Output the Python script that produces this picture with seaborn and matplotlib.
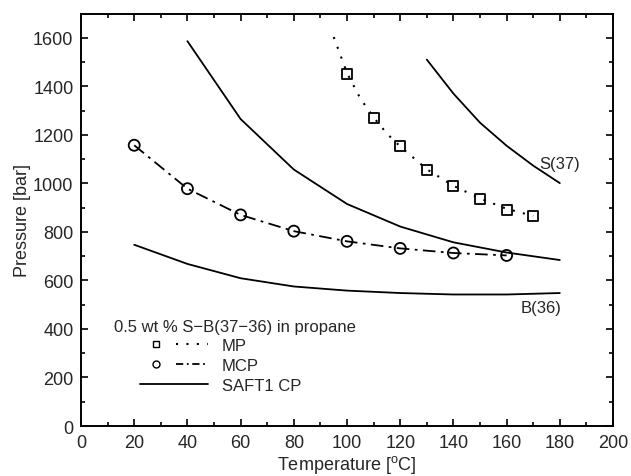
import matplotlib
matplotlib.use("Agg")
import matplotlib.pyplot as plt
import seaborn as sns
from matplotlib.lines import Line2D
from matplotlib.legend_handler import HandlerTuple

# measured points (MP, squares)
mp_temp = [100, 110, 120, 130, 140, 150, 160, 170]
mp_pres = [1451, 1270, 1153, 1056, 988, 936, 892, 867]
# dotted guide through MP
mp_fit_temp = [95, 100, 105, 110, 115, 120, 130, 140, 150, 160, 170]
mp_fit_pres = [1603, 1455, 1350, 1272, 1205, 1152, 1058, 990, 938, 895, 866]

# measured cloud points (MCP, circles)
mcp_temp = [20, 40, 60, 80, 100, 120, 140, 160]
mcp_pres = [1157, 978, 870, 803, 761, 732, 713, 703]

# SAFT1 CP curves
saft_s_temp = [130, 140, 150, 160, 170, 180]
saft_s_pres = [1510, 1370, 1250, 1155, 1073, 1001]
saft_mid_temp = [40, 60, 80, 100, 120, 140, 160, 180]
saft_mid_pres = [1586, 1265, 1057, 915, 822, 757, 715, 684]
saft_b_temp = [20, 40, 60, 80, 100, 120, 140, 160, 180]
saft_b_pres = [747, 668, 609, 575, 558, 548, 542, 542, 548]

sns.set_style("ticks")
plt.rcParams["font.family"] = ["Liberation Sans", "DejaVu Sans"]
plt.rcParams["mathtext.fontset"] = "custom"
plt.rcParams["mathtext.rm"] = "Liberation Sans"

fig = plt.figure(figsize=(6.31, 4.77), dpi=100)
ax = fig.add_axes([0.1284, 0.1048, 0.8431, 0.8648])

lw = 1.3
for t, p in [(saft_s_temp, saft_s_pres), (saft_mid_temp, saft_mid_pres), (saft_b_temp, saft_b_pres)]:
    sns.lineplot(x=t, y=p, ax=ax, color="black", lw=lw, sort=False)

sns.lineplot(x=mp_fit_temp, y=mp_fit_pres, ax=ax, color="black", lw=1.5,
             linestyle=(0, (1, 4)), sort=False)
sns.lineplot(x=mcp_temp, y=mcp_pres, ax=ax, color="black", lw=lw,
             linestyle=(0, (7, 3, 1.5, 3)), sort=False)

sns.scatterplot(x=mp_temp, y=mp_pres, ax=ax, marker="s", s=52,
                facecolor="none", edgecolor="black", linewidth=1.3, zorder=5)
sns.scatterplot(x=mcp_temp, y=mcp_pres, ax=ax, marker="o", s=63,
                facecolor="none", edgecolor="black", linewidth=1.3, zorder=5)

ax.text(180, 1080, "S(37)", fontsize=12, ha="center", va="center")
ax.text(173, 489, "B(36)", fontsize=12, ha="center", va="center")

ax.set_xlim(0, 200)
ax.set_ylim(0, 1700)
ax.set_xticks(range(0, 201, 20))
ax.set_yticks(range(0, 1601, 200))
ax.set_xticks(range(10, 200, 20), minor=True)
ax.set_yticks(range(100, 1700, 200), minor=True)
ax.tick_params(which="both", direction="in", top=True, right=True,
               width=1.2, labelsize=13, color="black", pad=5.5)
ax.tick_params(which="major", length=5)
ax.tick_params(which="minor", length=3)
for s in ax.spines.values():
    s.set_linewidth(1.4)
    s.set_color("black")

ax.set_xlabel("Temperature [$^\\mathregular{o}$C]", fontsize=13, labelpad=2)
ax.set_ylabel("Pressure [bar]", fontsize=13, labelpad=1.5)

# legend: title as plain text, entries indented below it
ax.text(12.4, 410, "0.5 wt % S\u2212B(37\u221236) in propane", fontsize=12,
        ha="left", va="center")
h_sq = Line2D([], [], marker="s", ms=5, mfc="none", mec="black", ls="none")
h_dot = Line2D([], [], color="black", lw=1.5, ls=(0, (1, 4)))
h_ci = Line2D([], [], marker="o", ms=5, mfc="none", mec="black", ls="none")
h_dd = Line2D([], [], color="black", lw=lw, ls=(0, (4, 2, 1, 2)))
h_saft = Line2D([], [], color="black", lw=lw)
ax.legend([(h_sq, h_dot), (h_ci, h_dd), h_saft], ["MP", "MCP", "SAFT1 CP"],
          handler_map={tuple: HandlerTuple(ndivide=None, pad=0.25)},
          fontsize=12, frameon=False,
          loc="center left", bbox_to_anchor=(0.111, 0.1467),
          handlelength=4.08, handletextpad=0.84, labelspacing=0.3,
          borderpad=0, borderaxespad=0)

fig.savefig("out.png", dpi=100)
